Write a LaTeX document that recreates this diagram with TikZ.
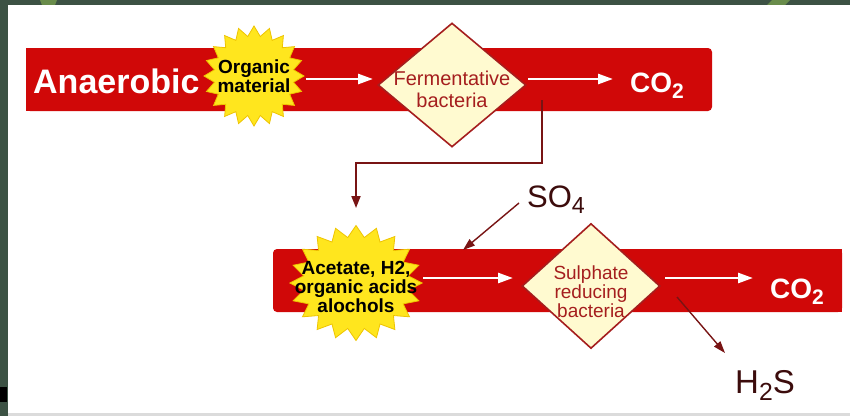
\documentclass[tikz,border=0pt]{standalone}
\usepackage{fontspec}
\setmainfont{Liberation Sans}
\usetikzlibrary{shapes.geometric,arrows.meta}
\definecolor{slidegreen}{RGB}{60,82,68}
\definecolor{leafgreen}{RGB}{105,140,75}
\definecolor{barred}{RGB}{208,8,8}
\definecolor{burstyellow}{RGB}{255,230,30}
\definecolor{burstedge}{RGB}{238,196,0}
\definecolor{cream}{RGB}{255,250,208}
\definecolor{diamred}{RGB}{165,30,30}
\definecolor{darkline}{RGB}{120,20,20}
\definecolor{formula}{RGB}{60,12,12}
\newcommand\subtxt[1]{\raisebox{-0.22em}{\scalebox{0.75}{#1}}}
\begin{document}
\begin{tikzpicture}[x=1pt,y=-1pt,
  burst/.style={star, star points=20, star point ratio=1.25, fill=burstyellow, draw=burstedge, line width=0.8pt, inner sep=0pt},
  diam/.style={diamond, fill=cream, draw=diamred, line width=1.6pt, inner sep=0pt},
  whitearrow/.style={draw=white, line width=2.6pt, -{Triangle[length=15pt,width=10pt]}},
  darkarrow/.style={draw=darkline, line width=1.8pt, -{Triangle[length=12pt,width=9pt]}},
  thinarrow/.style={draw=darkline, line width=1.4pt, -{Triangle[length=12pt,width=8pt]}},
  bartext/.style={anchor=base west, inner sep=0pt, text=white, font=\bfseries},
  formulatext/.style={anchor=base west, inner sep=0pt, text=formula},
  bursttext/.style={align=center, inner sep=0pt, text=black, font=\bfseries\fontsize{19}{19}\selectfont},
  diamtext/.style={align=center, inner sep=0pt, text=diamred}
]
\useasboundingbox (0,0) rectangle (850,416);
% slide background
\fill[slidegreen] (0,0) rectangle (850,416);
\fill[leafgreen] (40,0) -- (57,0) -- (55,5) -- (42,5) -- cycle;
\fill[leafgreen] (772,0) -- (790,0) -- (785,5) -- (767,5) -- cycle;
\fill[black] (0,387) rectangle (7,402);
\fill[white] (8,5) rectangle (850,413);
\fill[black!14] (8,413) rectangle (850,416);
% bars
\fill[barred, rounded corners=4pt] (26,48) rectangle (712,111);
\fill[barred] (26,48) rectangle (200,111);
\fill[barred, rounded corners=4pt] (273,249) rectangle (842,312);
\fill[barred] (700,249) rectangle (842,312);
% shapes
\node[burst, minimum size=100pt] (om) at (254,76) {};
\node[burst, minimum size=115pt, xscale=1.15, transform shape] (ac) at (356,283) {};
\node[diam, minimum width=148pt, minimum height=124pt] (ferm) at (452,85) {};
\node[diam, minimum width=138pt, minimum height=125pt] (sulf) at (591,286) {};
% texts
\node[bartext, font=\bfseries\fontsize{34}{36}\selectfont] (anaer) at (33,93) {Anaerobic};
\node[bartext, font=\bfseries\fontsize{28}{30}\selectfont] (co2a) at (630,92) {CO\subtxt{2}};
\node[bartext, font=\bfseries\fontsize{28}{30}\selectfont] (co2b) at (770,298) {CO\subtxt{2}};
\node[formulatext, font=\fontsize{31}{33}\selectfont] (so4) at (527,207) {SO\subtxt{4}};
\node[formulatext, font=\fontsize{33}{35}\selectfont] (h2s) at (735,393) {H\subtxt{2}S};
\node[bursttext] (omt) at (om.center) {Organic\\material};
\node[bursttext] (act) at (356,287) {Acetate, H2,\\organic acids\\alochols};
\node[diamtext, font=\fontsize{20}{22}\selectfont] (fermt) at (452,89) {Fermentative\\bacteria};
\node[diamtext, font=\fontsize{19}{19}\selectfont] (sulft) at (591,292) {Sulphate\\reducing\\bacteria};
% connector end points
\coordinate (a1s) at (306,79);  \coordinate (a1e) at (373,79);
\coordinate (a2s) at (528,79);  \coordinate (a2e) at (613,79);
\coordinate (a3s) at (423,278); \coordinate (a3e) at (513,278);
\coordinate (a4s) at (665,278); \coordinate (a4e) at (753,278);
\coordinate (fermout) at (542,100);
\coordinate (acin) at (356,208);
\coordinate (so4from) at (519,203);
\coordinate (so4to) at (463,250);
\coordinate (h2sfrom) at (677,297);
\coordinate (h2sto) at (725,353);
% white flow arrows
\draw[whitearrow] (a1s) -- (a1e);
\draw[whitearrow] (a2s) -- (a2e);
\draw[whitearrow] (a3s) -- (a3e);
\draw[whitearrow] (a4s) -- (a4e);
% dark connectors
\draw[darkarrow] (fermout) -- ++(0,63) -| (acin);
\draw[thinarrow] (so4from) -- (so4to);
\draw[thinarrow] (h2sfrom) -- (h2sto);
\end{tikzpicture}
\end{document}
